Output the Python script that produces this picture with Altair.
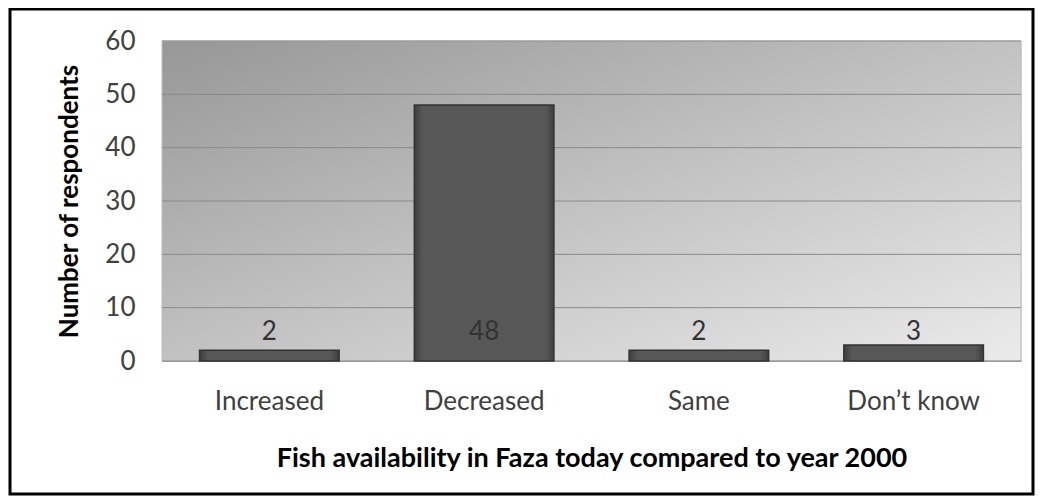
import altair as alt
import pandas as pd

categories = ["Increased", "Decreased", "Same", "Don\u2019t know"]
counts = [2, 48, 2, 3]
y_ticks = [0, 10, 20, 30, 40, 50, 60]

df = pd.DataFrame({"cat": categories, "n": counts})
grid_df = pd.DataFrame({"t": y_ticks})

W, H = 859, 320
FONT = "Lato"
FS = 26

xscale = alt.Scale(domain=categories, paddingInner=0.35, paddingOuter=0.175)
yscale = alt.Scale(domain=[0, 60], nice=False)

yaxis = alt.Axis(title="Number of respondents", values=y_ticks, grid=False,
                 ticks=False, domain=False, labelFont=FONT, labelFontSize=FS,
                 labelColor="#404040", labelPadding=27, titleFont=FONT,
                 titleFontSize=FS, titleFontWeight="bold", titleColor="#000000",
                 titlePadding=22)

bg = alt.Chart(alt.Data(values=[{}])).mark_rect(
    fill=alt.LinearGradient(
        gradient="linear", x1=0, y1=0, x2=1, y2=1,
        stops=[alt.GradientStop(offset=0, color="#979797"),
               alt.GradientStop(offset=0.5, color="#c2c2c2"),
               alt.GradientStop(offset=1, color="#ebebeb")]),
    stroke="#bdbdbd", strokeWidth=1,
).encode(x=alt.value(0), x2=alt.value(W), y=alt.value(0), y2=alt.value(H))

frame = alt.Chart(alt.Data(values=[{}])).mark_rect(
    fill=None, stroke="#000000", strokeWidth=3,
).encode(x=alt.value(-152), x2=alt.value(871), y=alt.value(-32), y2=alt.value(453))

grid = alt.Chart(grid_df).mark_rule(color="#8a8a8a", strokeWidth=1).encode(
    y=alt.Y("t:Q", scale=yscale, axis=yaxis),
    x=alt.value(0), x2=alt.value(W),
)

bars = alt.Chart(df).mark_bar(
    fill=alt.LinearGradient(
        gradient="linear", x1=0, y1=0, x2=1, y2=0,
        stops=[alt.GradientStop(offset=0, color="#3e3e3e"),
               alt.GradientStop(offset=0.06, color="#575757"),
               alt.GradientStop(offset=0.94, color="#575757"),
               alt.GradientStop(offset=1, color="#3e3e3e")]),
    stroke="#333333", strokeWidth=1.5,
).encode(
    x=alt.X("cat:N", scale=xscale, sort=categories,
            axis=alt.Axis(title="Fish availability in Faza today compared to year 2000",
                          labelAngle=0, ticks=False, domain=True, domainColor="#9a9a9a",
                          labelFont=FONT, labelFontSize=FS, labelColor="#404040",
                          labelPadding=27, titleFont=FONT, titleFontSize=FS + 1,
                          titleFontWeight="bold", titleColor="#000000", titlePadding=31)),
    y=alt.Y("n:Q", scale=yscale, axis=yaxis),
)

labels = alt.Chart(df).mark_text(
    font=FONT, fontSize=FS, color="#333333", baseline="bottom", dy=-16,
).encode(
    x=alt.X("cat:N", scale=xscale, sort=categories),
    y=alt.datum(0),
    text="n:Q",
)

chart = alt.layer(frame, bg, grid, bars, labels).properties(
    width=W, height=H,
    autosize=alt.AutoSizeParams(type="none"),
    padding={"left": 154, "top": 33, "right": 14, "bottom": 135},
).configure_view(stroke=None).configure(background="#ffffff")

chart.save("out.html", embed_options={"renderer": "svg", "actions": False})
